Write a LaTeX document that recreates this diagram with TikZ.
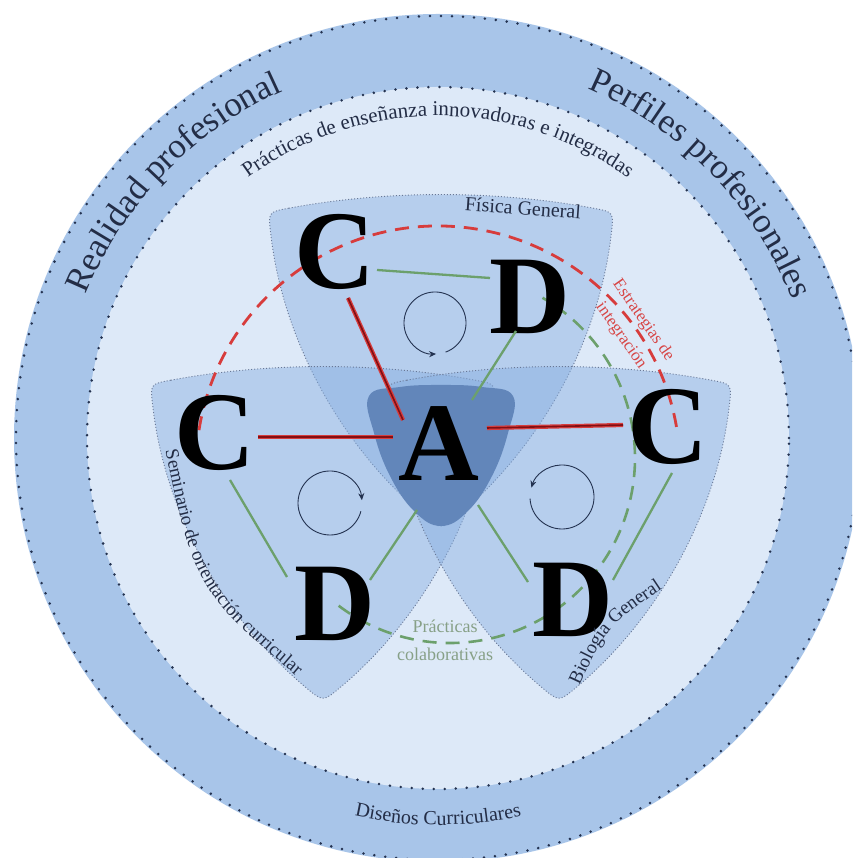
\documentclass[tikz,border=0pt]{standalone}
\usepackage{fontspec}
\setmainfont{Liberation Serif}
\usetikzlibrary{decorations.text,calc,arrows.meta}
\definecolor{ringblue}{RGB}{168,197,233}
\definecolor{innerblue}{RGB}{221,233,248}
\definecolor{lobeblue}{RGB}{135,174,224}
\definecolor{coreblue}{RGB}{98,134,186}
\definecolor{dotnavy}{RGB}{35,50,80}
\definecolor{edgegray}{RGB}{105,120,150}
\definecolor{linkred}{RGB}{215,60,60}
\definecolor{darkred}{RGB}{130,15,20}
\definecolor{linkgreen}{RGB}{108,160,108}
\definecolor{labelred}{RGB}{215,70,70}
\definecolor{labelgreen}{RGB}{135,160,135}
\definecolor{labelnavy}{RGB}{35,45,70}
\tikzset{
  dotring/.style={draw=dotnavy, line width=2.8pt, line cap=round, dash pattern=on 0pt off 11pt},
  lobeedge/.style={draw=edgegray, line width=0.9pt, dash pattern=on 1pt off 2pt},
  bigletter/.style={font=\fontsize{112}{112}\selectfont\bfseries, inner sep=0pt, text=black},
  redglow/.style={draw=linkred, line width=4.2pt},
  redcore/.style={draw=darkred, line width=1.6pt},
  greenlink/.style={draw=linkgreen, line width=2.3pt},
  greendash/.style={draw=linkgreen, line width=2.6pt, dash pattern=on 14pt off 9pt},
  reddash/.style={draw=linkred, line width=2.8pt, dash pattern=on 14pt off 9pt},
  cyclearrow/.style={draw=dotnavy, line width=0.9pt, -{Stealth[length=7pt,width=6pt]}},
  lobe/.pic={\path[pic actions] (20.8,3.8) .. controls (118,22) and (228,22) .. (325.2,3.8)
     .. controls (346,0) .. (343.1,-23.1) .. controls (331,-128) and (273,-234) .. (190.8,-302.9)
     .. controls (173,-318) .. (155.2,-302.9) .. controls (73,-234) and (15,-128) .. (2.9,-23.1)
     .. controls (0,0) .. (20.8,3.8) -- cycle;}
}
\begin{document}
\begin{tikzpicture}[x=1pt,y=1pt]
\useasboundingbox (0,0) rectangle (852,858);
\fill[white] (0,0) rectangle (852,858);
\coordinate (O) at (438,420);
\begin{scope}
\clip (0,0) rectangle (852,858);
\fill[ringblue] (O) circle[radius=424];
\path[dotring] (O) circle[radius=422];
\end{scope}
\fill[innerblue] (O) circle[radius=351];
\path[dotring] (O) circle[radius=351];

% curved ring labels
\path[decorate, decoration={text along path, text align=center,
  text={|\fontsize{35}{35}\selectfont\color{labelnavy}|Realidad profesional}}]
  ($(O)+(180:380)$) arc[start angle=180, end angle=92, radius=380];
\path[decorate, decoration={text along path, text align=center,
  text={|\fontsize{35}{35}\selectfont\color{labelnavy}|Perfiles profesionales}}]
  ($(O)+(88:380)$) arc[start angle=88, end angle=0, radius=380];
\path[decorate, decoration={text along path, text align=center,
  text={|\fontsize{21}{21}\selectfont\color{labelnavy}|Prácticas de enseñanza innovadoras e integradas}}]
  ($(O)+(160:322)$) arc[start angle=160, end angle=20, radius=322];
\path[decorate, decoration={text along path, text align=center,
  text={|\fontsize{20}{20}\selectfont\color{labelnavy}|Diseños Curriculares}}]
  ($(O)+(230:387)$) arc[start angle=230, end angle=310, radius=387];

% three lobes
\pic[fill=lobeblue, fill opacity=0.45, lobeedge] at (268,646) {lobe};
\pic[fill=lobeblue, fill opacity=0.45, lobeedge] at (150,474) {lobe};
\pic[fill=lobeblue, fill opacity=0.45, lobeedge] at (386,474) {lobe};

% central core
\fill[coreblue] plot[smooth cycle, tension=0.7] coordinates {(369,462) (400,471) (441,473) (482,471) (513,462) (508,425) (492,382) (468,347) (441,332) (414,347) (390,382) (374,425)};

% dashed arcs
\coordinate (G) at (450,400);
\coordinate (R) at (438,390);
\draw[greendash] ($(G)+(-127:185)$) arc[start angle=-127, end angle=60, radius=185];
\draw[reddash] ($(R)+(171:242)$) arc[start angle=171, end angle=9, radius=242];

% letters
\node[bigletter] (Ct) at (335,606) {C};
\node[bigletter] (Dt) at (530,561) {D};
\node[bigletter] (A) at (439,414) {A};
\node[bigletter] (Cl) at (215,425) {C};
\node[bigletter] (Dl) at (335,254) {D};
\node[bigletter] (Cr) at (668,431) {C};
\node[bigletter] (Dr) at (573,258) {D};

% green links
\draw[greenlink] ($(Ct)+(42,-18)$) -- ($(Dt)+(-40,19)$);
\draw[greenlink] ($(Dt)+(-14,-34)$) -- ($(A)+(33,44)$);
\draw[greenlink] ($(Cl)+(15,-47)$) -- ($(Dl)+(-48,27)$);
\draw[greenlink] ($(Dl)+(35,24)$) -- ($(A)+(-22,-66)$);
\draw[greenlink] ($(Cr)+(4,-46)$) -- ($(Dr)+(40,20)$);
\draw[greenlink] ($(A)+(39,-61)$) -- ($(Dr)+(-45,18)$);

% red links
\draw[redglow] ($(Ct)+(13,-46)$) -- ($(A)+(-36,24)$);
\draw[redcore] ($(Ct)+(13,-46)$) -- ($(A)+(-36,24)$);
\draw[redglow] ($(Cl)+(43,-4)$) -- ($(A)+(-46,7)$);
\draw[redcore] ($(Cl)+(43,-4)$) -- ($(A)+(-46,7)$);
\draw[redglow] ($(A)+(48,16)$) -- ($(Cr)+(-45,2)$);
\draw[redcore] ($(A)+(48,16)$) -- ($(Cr)+(-45,2)$);

% cycle arrows
\coordinate (cy1) at (435,535);
\coordinate (cy2) at (330,355);
\coordinate (cy3) at (562,361);
\draw[cyclearrow] ($(cy1)+(-70:31)$) arc[start angle=-70, end angle=272, radius=31];
\draw[cyclearrow] ($(cy2)+(345:32)$) arc[start angle=345, end angle=5, radius=32];
\draw[cyclearrow] ($(cy3)+(-177:32)$) arc[start angle=-177, end angle=163, radius=32];

% lobe labels
\node[font=\fontsize{20}{20}\selectfont, text=labelnavy, rotate=-4, inner sep=0pt] (fis) at (523,650) {Física General};
\path[decorate, decoration={text along path, text align=center,
  text={|\fontsize{19}{19}\selectfont\color{labelnavy}|Seminario de orientación curricular}}]
  (161.6,425.4) .. controls (194.3,268) .. (310.7,170);
\path[decorate, decoration={text along path, text align=center,
  text={|\fontsize{19}{19}\selectfont\color{labelnavy}|Biología General}}]
  (576.5,166.3) .. controls (606.9,232) .. (668.2,272.9);

% link labels
\node[font=\fontsize{17}{27}\selectfont, text=labelred, rotate=-55, align=center, inner sep=0pt] (est) at (632,530) {Estrategias de\\integración};
\node[font=\fontsize{18}{28}\selectfont, text=labelgreen, align=center, inner sep=0pt] (pc) at (445,218) {Prácticas\\colaborativas};
\end{tikzpicture}
\end{document}
